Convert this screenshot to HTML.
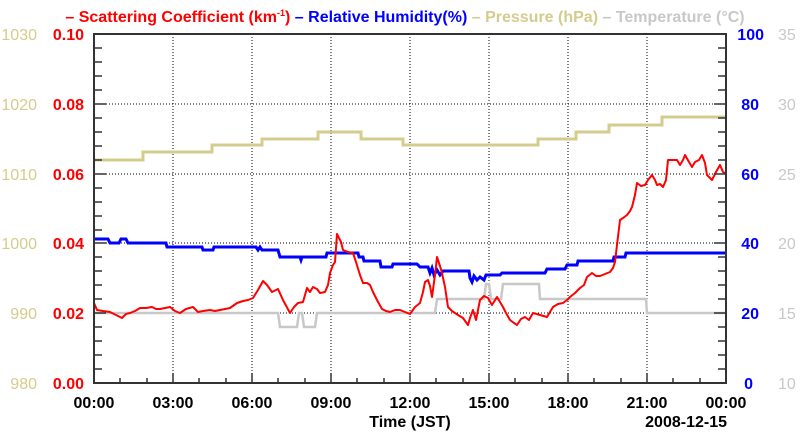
<!DOCTYPE html>
<html><head><meta charset="utf-8"><style>
body{margin:0;background:#fff;}
svg{display:block;font-family:"Liberation Sans",Arial,sans-serif;}
.b{font-weight:bold;font-size:16px;}
</style></head><body>
<svg width="800" height="434" viewBox="0 0 800 434" xmlns="http://www.w3.org/2000/svg">
<text x="405" y="22" text-anchor="middle" class="b" style="font-size:16px">
<tspan fill="#ff0000">– Scattering Coefficient (km</tspan><tspan fill="#ff0000" font-size="9" dy="-6">-1</tspan><tspan fill="#ff0000" dy="6">)</tspan>
<tspan fill="#0000ff"> – Relative Humidity(%)</tspan>
<tspan fill="#d4cc8c"> – Pressure (hPa)</tspan>
<tspan fill="#c8c8c8"> – Temperature (°C)</tspan>
</text>
<g stroke="#000" stroke-width="1" stroke-dasharray="1,2">
<line x1="173" y1="34" x2="173" y2="383"/><line x1="252" y1="34" x2="252" y2="383"/>
<line x1="331" y1="34" x2="331" y2="383"/><line x1="410" y1="34" x2="410" y2="383"/>
<line x1="489" y1="34" x2="489" y2="383"/><line x1="568" y1="34" x2="568" y2="383"/>
<line x1="647" y1="34" x2="647" y2="383"/>
<line x1="94" y1="104" x2="726" y2="104"/><line x1="94" y1="174" x2="726" y2="174"/>
<line x1="94" y1="243" x2="726" y2="243"/><line x1="94" y1="313" x2="726" y2="313"/>
</g>
<polyline fill="none" stroke="#d4cc8c" stroke-width="3" points="94,160 143,160 143,152 212,152 212,145 262,145 262,139 318,139 318,132 361,132 361,139 403,139 403,145 538,145 538,139 576,139 576,132 609,132 609,125 662,125 662,117 726,117"/>
<polyline fill="none" stroke="#c8c8c8" stroke-width="2.5" points="94,313 278,313 280,327 297,327 299,313 302,313 304,327 315,327 317,313 435,313 437,299 484,299 486,284 489,284 491,299 501,299 503,284 539,284 540,299 646,299 647,313 726,313"/>
<polyline fill="none" stroke="#0000ff" stroke-width="3" points="94,239 108,239 110,243 119,243 121,239 126,239 128,243 166,243 167,247 202,247 203,250 213,250 214,247 256,247 258,250 260,247 262,250 278,250 280,257 300,257 301,260 302,257 326,257 327,253 358,253 359,257 363,257 364,261 380,261 381,267 392,267 393,264 417,264 420,267 428,267 430,273 432,268 434,275 437,270 440,275 443,271 469,271 470,278 472,282 474,276 477,280 480,277 484,280 486,275 500,275 502,273 545,273 547,269 565,269 567,265 577,265 578,261 613,261 614,257 625,257 626,253 726,253"/>
<polyline fill="none" stroke="#ff0000" stroke-width="2" stroke-linejoin="round" points="94,303 97,310 103,311 110,312 116,315 122,318 126,314 130,313 135,311 140,308 146,308 152,307 156,309 160,309 165,308 170,307 175,311 180,313 186,309 193,307 198,312 203,311 210,310 215,311 220,310 225,309 230,308 237,303 243,301 248,300 253,298 258,290 263,281 267,285 272,292 278,289 283,300 290,313 294,307 298,303 303,302 307,288 310,292 313,287 317,289 320,293 325,292 328,285 330,273 333,265 335,262 337,234 339,238 341,242 343,250 348,252 353,253 356,262 360,275 363,283 367,283 370,285 373,292 377,300 382,309 386,311 390,312 395,310 400,310 405,312 410,314 415,307 420,303 423,292 425,282 428,280 430,286 432,297 435,275 437,257 440,266 442,273 445,287 448,307 452,311 458,315 463,318 468,325 470,318 473,310 476,320 480,300 484,296 488,298 492,305 497,297 500,302 503,307 506,313 510,320 514,323 517,325 521,319 525,317 529,320 533,313 540,315 547,317 550,312 553,307 558,304 563,303 567,300 570,297 575,293 580,288 584,285 587,277 592,273 596,276 600,276 605,274 610,272 613,268 615,262 617,245 620,220 623,218 627,215 630,211 632,207 635,195 637,183 641,186 645,185 648,180 652,175 655,180 657,185 660,184 663,187 666,180 668,160 672,160 677,160 680,165 683,160 685,155 689,162 692,167 695,162 699,160 702,155 705,163 707,175 710,178 712,180 716,172 720,165 723,172 725,173"/>
<rect x="94" y="34" width="632" height="349" fill="none" stroke="#333" stroke-width="2"/>
<g stroke="#333" stroke-width="1.5">
<path d="M94,48h8M94,62h8M94,76h8M94,90h8M94,104h12M94,118h8M94,132h8M94,146h8M94,160h8M94,174h12M94,188h8M94,202h8M94,216h8M94,230h8M94,243h12M94,257h8M94,271h8M94,285h8M94,299h8M94,313h12M94,327h8M94,341h8M94,355h8M94,369h8"/>
<path d="M726,48h-8M726,62h-8M726,76h-8M726,90h-8M726,104h-12M726,118h-8M726,132h-8M726,146h-8M726,160h-8M726,174h-12M726,188h-8M726,202h-8M726,216h-8M726,230h-8M726,243h-12M726,257h-8M726,271h-8M726,285h-8M726,299h-8M726,313h-12M726,327h-8M726,341h-8M726,355h-8M726,369h-8"/>
<path d="M120,383v-5M147,383v-5M173,383v-10M199,383v-5M226,383v-5M252,383v-10M278,383v-5M305,383v-5M331,383v-10M357,383v-5M384,383v-5M410,383v-10M436,383v-5M463,383v-5M489,383v-10M515,383v-5M542,383v-5M568,383v-10M594,383v-5M621,383v-5M647,383v-10M673,383v-5M700,383v-5"/>
</g>
<g class="b" fill="#ff0000" text-anchor="end">
<text x="84" y="40">0.10</text><text x="84" y="110">0.08</text><text x="84" y="180">0.06</text>
<text x="84" y="249">0.04</text><text x="84" y="319">0.02</text><text x="84" y="389">0.00</text>
</g>
<g font-size="16" fill="#d4cc8c" text-anchor="end">
<text x="37" y="40">1030</text><text x="37" y="110">1020</text><text x="37" y="180">1010</text>
<text x="37" y="249">1000</text><text x="37" y="319">990</text><text x="37" y="389">980</text>
</g>
<g class="b" fill="#0000ff" text-anchor="end">
<text x="764" y="40">100</text><text x="759" y="110">80</text><text x="759" y="180">60</text>
<text x="759" y="249">40</text><text x="759" y="319">20</text><text x="753" y="389">0</text>
</g>
<g font-size="16" fill="#c8c8c8">
<text x="778" y="40">35</text><text x="778" y="110">30</text><text x="778" y="180">25</text>
<text x="778" y="249">20</text><text x="778" y="319">15</text><text x="778" y="389">10</text>
</g>
<g class="b" fill="#000" text-anchor="middle">
<text x="94" y="408">00:00</text><text x="173" y="408">03:00</text><text x="252" y="408">06:00</text>
<text x="331" y="408">09:00</text><text x="410" y="408">12:00</text><text x="489" y="408">15:00</text>
<text x="568" y="408">18:00</text><text x="647" y="408">21:00</text><text x="726" y="408">00:00</text>
<text x="410" y="427">Time (JST)</text>
</g>
<text x="727" y="427" text-anchor="end" class="b">2008-12-15</text>
</svg>
</body></html>
